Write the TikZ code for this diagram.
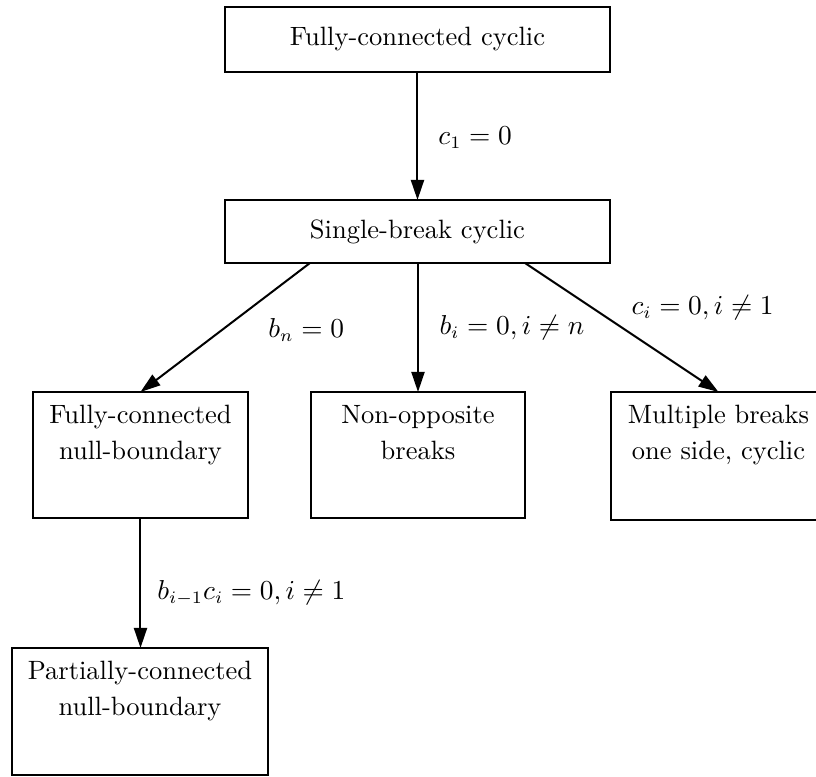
\documentclass[tikz,border=0pt]{standalone}
\usetikzlibrary{arrows.meta}
% text block pinned to the top of a tall box
\newcommand{\cellbody}[3]{\parbox[c][#2][t]{#1}{\centering\vspace*{5.3pt}#3}}
\begin{document}
\begin{tikzpicture}[x=0.4pt,y=-0.4pt,
  box/.style={draw, line width=0.8pt, inner sep=0pt, outer sep=0pt,
    font=\fontsize{10.6}{14.4}\selectfont},
  flow/.style={line width=0.8pt, -{Triangle[length=8pt,width=5.2pt]}},
  cond/.style={anchor=west, inner sep=0pt, font=\fontsize{10.6}{14.4}\selectfont}]
\fill[white] (0,0) rectangle (816,777);
\path[use as bounding box, clip] (0,0) rectangle (816,777);

% states
\node[box, minimum width=154pt, minimum height=26pt] (fcc) at (417.5,39.5) {Fully-connected cyclic};
\node[box, minimum width=154pt, minimum height=25.2pt] (sbc) at (417.5,231.5) {Single-break cyclic};
\node[box] (fcn) at (140.5,455) {\cellbody{86pt}{50.4pt}{Fully-connected\\null-boundary}};
\node[box] (nob) at (418,455) {\cellbody{85.6pt}{50.4pt}{Non-opposite\\breaks}};
\node[box] (mbo) at (718.5,456) {\cellbody{86pt}{51.2pt}{Multiple breaks\\one side, cyclic}};
\node[box] (pcn) at (140,711.5) {\cellbody{102.4pt}{50.8pt}{Partially-connected\\null-boundary}};

% transitions
\draw[flow] (fcc.south) -- (fcc.south |- sbc.north);
\draw[flow] ([xshift=34pt]sbc.south west) -- (fcn.north);
\draw[flow] (sbc.south -| nob.north) -- (nob.north);
\draw[flow] ([xshift=-34pt]sbc.south east) -- (mbo.north);
\draw[flow] (fcn.south) -- (fcn.south |- pcn.north);

% conditions
\node[cond] (l1) at (438,138) {$c_1=0$};
\node[cond] (l2) at (268,330) {$b_n=0$};
\node[cond] (l3) at (439,328) {$b_i=0, i\neq n$};
\node[cond] (l4) at (631,308) {$c_i=0, i\neq 1$};
\node[cond] (l5) at (157,593) {$b_{i-1}c_i=0, i\neq 1$};
\end{tikzpicture}
\end{document}
